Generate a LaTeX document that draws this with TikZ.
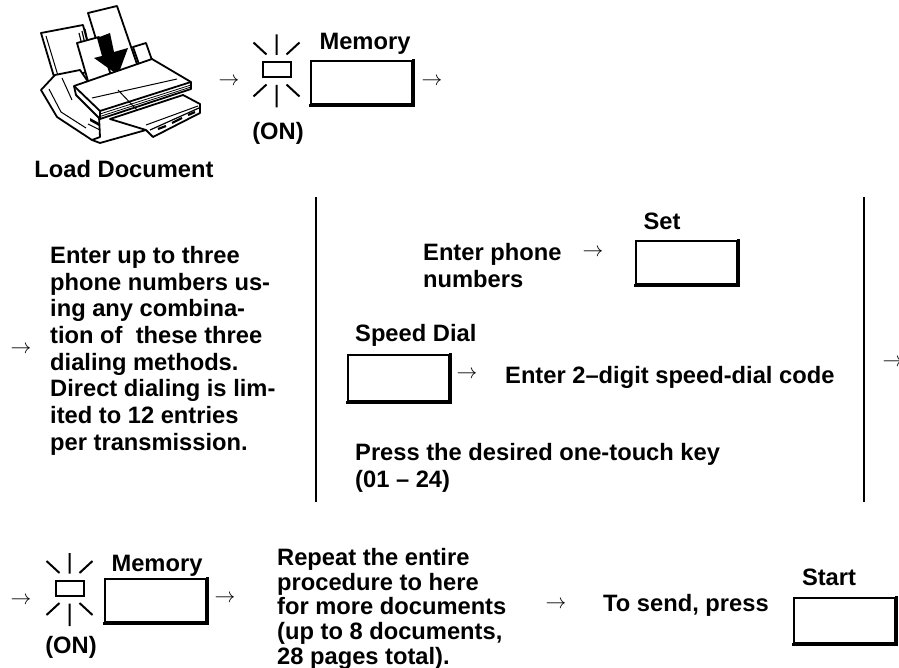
\documentclass[tikz,border=0pt]{standalone}
\usepackage{fontspec}
\setmainfont{Liberation Sans}
\begin{document}
\begin{tikzpicture}[x=1pt,y=-1pt,
  txt/.style={font=\bfseries\fontsize{23.7}{26.7}\selectfont, inner sep=0pt, align=left},
  tighttxt/.style={txt, font=\bfseries\fontsize{23.7}{24.8}\selectfont},
  glyph/.style={font=\fontsize{20}{20}\selectfont, inner sep=0pt},
  keybox/.style={draw, line width=1.6pt, minimum width=101pt, minimum height=43pt, inner sep=0pt, anchor=north west},
  keyedge/.style={line width=3.6pt},
  divider/.style={line width=2.4pt},
  ray/.style={line width=2pt},
  ink/.style={line width=1.8pt, line join=round, fill=white},
  lamp/.pic={
    \draw[ray] (-14,-7.5) rectangle (14,7.5);
    \draw[ray] (0,-14.5) -- (0,-35) (0,15.5) -- (0,38)
      (-10,-15) -- (-23,-27) (10,-15) -- (23,-27)
      (-10,15) -- (-23,27) (10,15) -- (23,27);
  }]
\useasboundingbox (0,0) rectangle (899,668);
\clip (0,0) rectangle (899,668);

% ---------- fax machine with document ----------
\begin{scope}
  % rear paper support
  \draw[ink] (41,33) -- (83,25) -- (95,70) -- (55,80) -- cycle;
  \draw[line width=1pt] (46,36) -- (59,79);
  % stacked originals
  \draw[ink] (88,13) -- (117,6) -- (139,70) -- (108,78) -- cycle;
  \draw[line width=1.2pt] (79,33) -- (82,45) (82,31) -- (85,44) (85,29) -- (88,43);
  \draw[ink] (77,43) -- (99,37) -- (113,82) -- (90,88) -- cycle;
  % feed arrow
  \fill (97,38) -- (110,33) -- (114,52) -- (128,48) -- (118,75) -- (94,58) -- (102,56) -- cycle;
  % right paper guide
  \draw[ink] (133,47) -- (146,43) -- (153,63) -- (140,67) -- cycle;
  % left housing
  \draw[ink] (41,90) -- (55,75) -- (80,70) -- (98,96) -- (100,137) -- (92,140) -- (57,117) -- cycle;
  \draw[line width=1pt] (49,89) -- (61,112) -- (86,128);
  \draw[line width=1pt] (62,78) -- (72,100);
  % output tray
  \draw[ink] (110,119) -- (183,95) -- (200,104) -- (200,113) -- (153,137) -- (146,130) -- cycle;
  \draw[line width=1pt] (146,125) -- (198,106);
  \draw[line width=1.2pt] (150,130) -- (199,108);
  \draw[line width=2.2pt] (158,129) -- (166,126) (172,123) -- (182,118) (188,115) -- (195,112);
  % main cover
  \draw[ink] (74,86) -- (152,59) -- (191,82) -- (191,89) -- (100,119) -- (76,95) -- cycle;
  \draw[line width=1.8pt] (74,86) -- (100,111) -- (191,82);
  \draw[line width=0.8pt] (100,114) -- (191,85) (100,116.5) -- (191,87);
  \draw[line width=1.8pt] (100,111) -- (100,119);
  \draw[line width=1pt] (92,98) -- (177,79) (118,90) -- (137,110);
  % base and front foot
  \draw[line width=1.8pt] (92,140) -- (100,143) -- (146,130);
  \draw[line width=1pt] (88,124) -- (100,130);
  \fill (90,118) -- (99,123) -- (99,126) -- (90,121) -- cycle;
\end{scope}
\node[txt, anchor=base] (load) at (124,178) {Load Document};

% ---------- first row: Memory ----------
\node[glyph] (a1) at (229,82) {$\rightarrow$};
\pic (lampA) at (276.5,69.5) {lamp};
\node[txt, anchor=base] (onA) at (278,140) {(ON)};
\node[keybox] (mem1) at (310,60) {};
\node[txt, anchor=base] (memlblA) at (365,50) {Memory};
\node[glyph] (a2) at (432,82) {$\rightarrow$};

% ---------- second row: dialing ----------
\node[glyph] (a3) at (21,350) {$\rightarrow$};
\node[txt, anchor=north west] (para) at (50,246)
  {Enter up to three\\phone numbers us-\\ing any combina-\\tion of\ \ these three\\dialing methods.\\Direct dialing is lim-\\ited to 12 entries\\per transmission.};
\draw[divider] (316,197) -- (316,502);
\draw[divider] (864,197) -- (864,502);

\node[txt, anchor=north west] (phone) at (423,243) {Enter phone\\numbers};
\node[glyph] (a4) at (593,253) {$\rightarrow$};
\node[keybox] (set) at (635,240) {};
\node[txt, anchor=base] (setlbl) at (662,230) {Set};

\node[txt, anchor=north west] (speedlbl) at (355,324) {Speed Dial};
\node[keybox, minimum height=46pt] (speed) at (347,354) {};
\node[glyph] (a5) at (467,375) {$\rightarrow$};
\node[txt, anchor=base west] (code) at (505,383) {Enter 2–digit speed-dial code};

\node[txt, anchor=north west] (touch) at (355,443) {Press the desired one-touch key\\(01 – 24)};
\node[glyph] (a6) at (893,363) {$\rightarrow$};

% ---------- third row: repeat and send ----------
\node[glyph] (a7) at (21,601) {$\rightarrow$};
\pic (lampB) at (69.5,588) {lamp};
\node[txt, anchor=base] (onB) at (71,653) {(ON)};
\node[keybox] (mem2) at (104,578) {};
\node[txt, anchor=base] (memlblB) at (157,571) {Memory};
\node[glyph] (a8) at (225,599) {$\rightarrow$};

\node[tighttxt, anchor=north west] (repeat) at (277,548)
  {Repeat the entire\\procedure to here\\for more documents\\(up to 8 documents,\\28 pages total).};
\node[glyph] (a9) at (556,605) {$\rightarrow$};
\node[txt, anchor=base west] (send) at (603,611) {To send, press};
\node[keybox, minimum height=45pt] (start) at (793,597) {};
\node[txt, anchor=base] (startlbl) at (829,585) {Start};

% heavy lower and right edges of the keys
\foreach \k in {mem1,set,speed,mem2,start}
  \draw[keyedge] ([shift={(0.8,-0.8)}]\k.north east) -- ([shift={(0.8,0.8)}]\k.south east) -- ([shift={(-0.8,0.8)}]\k.south west);
\end{tikzpicture}
\end{document}
